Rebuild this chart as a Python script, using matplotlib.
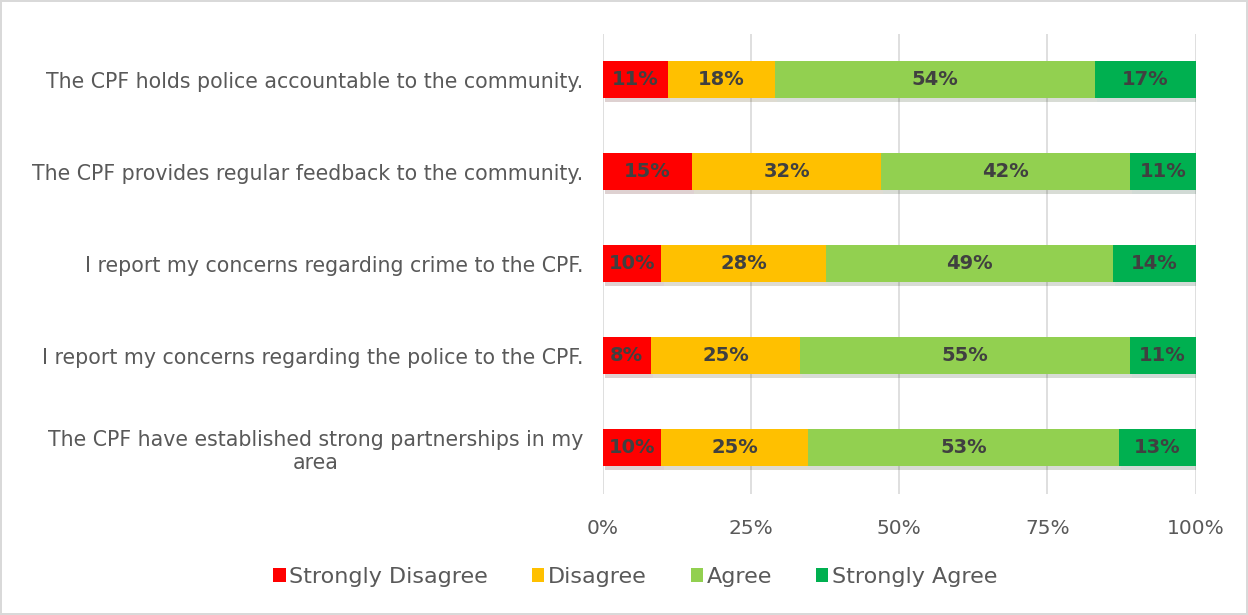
import matplotlib.pyplot as plt
import matplotlib.patheffects as pe
import numpy as np

statements = [
    "The CPF holds police accountable to the community.",
    "The CPF provides regular feedback to the community.",
    "I report my concerns regarding crime to the CPF.",
    "I report my concerns regarding the police to the CPF.",
    "The CPF have established strong partnerships in my\narea",
]
strongly_disagree = [11, 15, 10, 8, 10]
disagree = [18, 32, 28, 25, 25]
agree = [54, 42, 49, 55, 53]
strongly_agree = [17, 11, 14, 11, 13]

series_names = ["Strongly Disagree", "Disagree", "Agree", "Strongly Agree"]
colors = ["#FF0000", "#FFC000", "#92D050", "#00B050"]
ticks = [0, 0.25, 0.5, 0.75, 1.0]
tick_labels = ["0%", "25%", "50%", "75%", "100%"]

plt.rcParams['font.family'] = ['DejaVu Sans']

fig = plt.figure(figsize=(12.48, 6.15), dpi=100)
fig.patch.set_edgecolor('#D9D9D9')
fig.patch.set_linewidth(1.5)
ax = fig.add_axes([0.483, 0.197, 0.475, 0.748])

data = np.array([strongly_disagree, disagree, agree, strongly_agree], dtype=float)
shares = data / data.sum(axis=0)
y = np.arange(len(statements))

shadow = [pe.SimplePatchShadow(offset=(1.5, -2.5), alpha=0.18), pe.Normal()]
left = np.zeros(len(statements))
for i in range(4):
    bars = ax.barh(y, shares[i], left=left, height=0.4, color=colors[i],
                   label=series_names[i], zorder=3)
    for b in bars:
        b.set_path_effects(shadow)
    for j in range(len(statements)):
        ax.text(left[j] + shares[i, j] / 2, y[j], f"{int(data[i, j])}%",
                ha='center', va='center', fontsize=14, fontweight='bold',
                color='#404040', zorder=4)
    left += shares[i]

ax.set_xlim(0, 1)
ax.set_ylim(len(statements) - 0.5, -0.5)
ax.set_xticks(ticks)
ax.set_xticklabels(tick_labels, fontsize=14.5, color='#595959')
ax.set_yticks(y)
ax.set_yticklabels(statements, fontsize=14.8, color='#595959',
                   ha='right', multialignment='center')
ax.tick_params(axis='y', pad=14, length=0)
ax.tick_params(axis='x', length=0, pad=18)
ax.grid(axis='x', color='#D9D9D9', linewidth=1.2, zorder=0)
for s in ax.spines.values():
    s.set_visible(False)

leg = fig.legend(loc='center', bbox_to_anchor=(0.509, 0.062), ncol=4, frameon=False,
                 fontsize=16, handlelength=0.55, handleheight=0.55, handletextpad=0.15,
                 columnspacing=2.0)
for h in leg.legend_handles:
    h.set_path_effects([])
for t in leg.get_texts():
    t.set_color('#595959')

fig.savefig('out.png', dpi=100)
